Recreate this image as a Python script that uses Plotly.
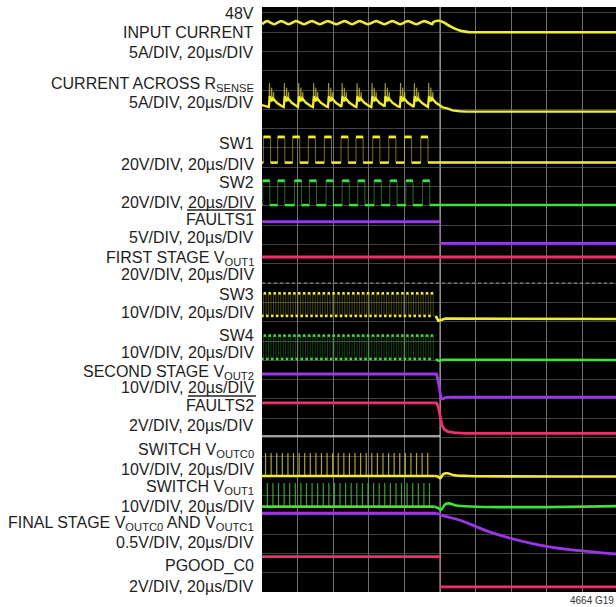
import numpy as np
import plotly.graph_objects as go

# ---------------- graticule (in scope divisions, 20µs/div horizontally) ----------------
X_MAX = 9.94
Y_MAX = 30.3
T_EVENT = 5.0

# ---------------- 48V input current ----------------
IIN_LEVEL = 29.49
IIN_RIPPLE = 0.08
IIN_PEAKS_T = [0.14, 0.54, 0.96, 1.40, 1.85, 2.32, 2.74, 3.21, 3.66, 4.10, 4.56]
IIN_FALL_T = [4.80, 4.98, 5.10, 5.30, 5.55, 5.80, 6.05, 9.94]
IIN_FALL_Y = [29.50, 29.59, 29.50, 29.28, 29.08, 29.00, 28.99, 28.99]

# ---------------- current across Rsense ----------------
RS_BASE = 25.12
RS_SPIKE_T = [0.19, 0.61, 1.01, 1.43, 1.85, 2.23, 2.65, 3.07, 3.44, 3.87, 4.26, 4.66]
RS_PERIOD = 0.41
# shape of one cycle: (fraction of period, height above base)
RS_CYCLE_F = [0.00, 0.07, 0.17, 0.28, 0.55, 0.90]
RS_CYCLE_H = [0.00, 0.55, 0.30, 0.45, 0.22, 0.04]
RS_THIN_F = [0.05, 0.20, 0.33]
RS_THIN_H = [1.24, 1.00, 0.78]
RS_FALL_T = [5.07, 5.20, 5.35, 5.55, 5.75, 9.94]
RS_FALL_Y = [25.10, 25.05, 24.95, 24.90, 24.88, 24.88]

# ---------------- SW1 / SW2 (first stage switch nodes) ----------------
SW1_HI, SW1_LO = 23.57, 22.24
SW1_CENTERS = [0.14, 0.54, 0.96, 1.40, 1.85, 2.32, 2.74, 3.21, 3.66, 4.10, 4.56]
SW2_HI, SW2_LO = 21.30, 20.04
SW2_CENTERS = [0.12, 0.54, 1.01, 1.43, 1.90, 2.35, 2.79, 3.25, 3.69, 4.14, 4.61]
SW12_WIDTH = 0.20

# ---------------- FAULTS1 and first stage Vout1 ----------------
FAULTS1_HI, FAULTS1_LO = 19.18, 18.06
VOUT1_LEVEL = 17.35

# ---------------- SW3 / SW4 (second stage switch nodes) ----------------
SW3_HI, SW3_LO = 15.47, 14.30
SW4_HI, SW4_LO = 13.28, 12.07
SW34_FIRST, SW34_LAST, SW34_PERIOD = 0.08, 4.84, 0.138
SW3_AFTER_T = [4.88, 4.95, 5.05, 5.15, 9.94]
SW3_AFTER_Y = [14.30, 14.05, 14.10, 14.16, 14.14]
SW4_AFTER_T = [4.88, 4.95, 5.10, 9.94]
SW4_AFTER_Y = [12.07, 11.98, 12.03, 12.02]

# ---------------- second stage Vout2 and FAULTS2 ----------------
VOUT2_T = [0.0, 4.90, 4.95, 5.00, 5.03, 5.08, 5.15, 5.30, 9.94]
VOUT2_Y = [11.29, 11.29, 10.90, 10.20, 10.00, 10.00, 10.07, 10.09, 10.09]
FAULTS2_T = [0.0, 4.90, 4.95, 5.00, 5.05, 5.12, 5.22, 5.40, 5.70, 9.94]
FAULTS2_Y = [9.80, 9.80, 9.60, 9.05, 8.65, 8.42, 8.31, 8.25, 8.22, 8.22]
REF_LEVEL = 8.08

# ---------------- switch Voutc0 / Vout1 ----------------
SWC0_BASE, SWC0_TOP = 6.01, 7.20
SWC1_BASE, SWC1_TOP = 4.42, 5.65
SWC_FIRST, SWC_LAST, SWC_PERIOD = 0.10, 4.80, 0.157
SWC0_AFTER_T = [4.85, 4.95, 5.00, 5.10, 5.20, 5.40, 5.80, 9.94]
SWC0_AFTER_Y = [6.01, 5.97, 5.89, 6.12, 6.15, 6.05, 6.01, 5.98]
SWC1_AFTER_T = [4.85, 4.95, 5.02, 5.15, 5.25, 5.50, 9.94]
SWC1_AFTER_Y = [4.42, 4.35, 4.25, 4.55, 4.59, 4.47, 4.45]

# ---------------- final stage Voutc0/Voutc1 and PGOOD_C0 ----------------
FINAL_LEVEL = 4.08
FINAL_T = [4.90, 5.18, 5.54, 6.47, 7.79, 8.71, 9.94]
FINAL_Y = [4.08, 3.90, 3.73, 3.06, 2.43, 2.18, 1.97]
PGOOD_HI, PGOOD_LO = 1.83, 0.27

YEL = "#f2ee2e"
GRN = "#3fe23a"
PUR = "#9d36e8"
PNK = "#ef2f70"

fig = go.Figure()


def add_line(xs, ys, color, width=2.5, shape="linear"):
    fig.add_trace(go.Scatter(x=xs, y=ys, mode="lines", hoverinfo="skip",
                             line=dict(color=color, width=width, shape=shape)))


def add_step(t, hi, lo, color):
    """Level change drawn like a scope: bright plateaus, faint fast edge."""
    add_line([t, t], [hi, lo], color.replace("1)", "0.45)"), 1.0)
    add_line([0, t], [hi, hi], color, 2.8)
    add_line([t, X_MAX], [lo, lo], color, 2.8)


def square_parts(centers, width, hi, lo, t_end):
    """Return full outline plus the separated high/low plateaus of a square wave."""
    ox, oy = [0.0], [lo]
    hx, hy, lx, ly = [], [], [], []
    prev = 0.0
    for c in centers:
        a, b = c - width / 2, c + width / 2
        ox += [a, a, b, b]
        oy += [lo, hi, hi, lo]
        hx += [a, b, None]
        hy += [hi, hi, None]
        lx += [prev, a, None]
        ly += [lo, lo, None]
        prev = b
    ox.append(t_end)
    oy.append(lo)
    lx += [prev, t_end]
    ly += [lo, lo]
    return ox, oy, hx, hy, lx, ly


# 48V input current
rx = [0.0]
ry = [IIN_LEVEL - IIN_RIPPLE]
for i, p in enumerate(IIN_PEAKS_T):
    rx.append(p)
    ry.append(IIN_LEVEL + IIN_RIPPLE)
    nxt = IIN_PEAKS_T[i + 1] if i + 1 < len(IIN_PEAKS_T) else p + 0.44
    rx.append((p + nxt) / 2)
    ry.append(IIN_LEVEL - IIN_RIPPLE)
add_line(rx + IIN_FALL_T, ry + IIN_FALL_Y, YEL, 2.6, "spline")

# current across Rsense: thin spikes then the bright envelope
tx, ty = [], []
for t0 in RS_SPIKE_T:
    for f, h in zip(RS_THIN_F, RS_THIN_H):
        t = t0 + f * RS_PERIOD
        tx += [t - 0.012, t, t + 0.012, None]
        ty += [RS_BASE + 0.3, RS_BASE + h, RS_BASE + 0.3, None]
add_line(tx, ty, "rgba(225,220,60,0.7)", 1.1)
mx, my = [0.0], [RS_BASE + 0.1]
for t0 in RS_SPIKE_T:
    for f, h in zip(RS_CYCLE_F, RS_CYCLE_H):
        mx.append(t0 + f * RS_PERIOD)
        my.append(RS_BASE + h)
add_line(mx + RS_FALL_T, my + RS_FALL_Y, YEL, 2.3)

# SW1, SW2
for centers, hi, lo, col, dim in [(SW1_CENTERS, SW1_HI, SW1_LO, YEL, "rgba(215,208,40,0.55)"),
                                  (SW2_CENTERS, SW2_HI, SW2_LO, GRN, "rgba(60,200,50,0.55)")]:
    ox, oy, hx, hy, lx, ly = square_parts(centers, SW12_WIDTH, hi, lo, X_MAX)
    add_line(ox, oy, dim, 1.0)
    add_line(hx, hy, col, 2.8)
    add_line(lx, ly, col, 2.5)

# FAULTS1 and first stage Vout1
add_step(T_EVENT, FAULTS1_HI, FAULTS1_LO, "rgba(157,54,232,1)")
add_line([0, X_MAX], [VOUT1_LEVEL, VOUT1_LEVEL], PNK, 2.8)

# SW3, SW4 (fast switching)
sw34_centers = list(np.arange(SW34_FIRST, SW34_LAST, SW34_PERIOD))
for hi, lo, col, dim, at, ay in [
        (SW3_HI, SW3_LO, YEL, "rgba(215,208,40,0.42)", SW3_AFTER_T, SW3_AFTER_Y),
        (SW4_HI, SW4_LO, GRN, "rgba(60,200,50,0.42)", SW4_AFTER_T, SW4_AFTER_Y)]:
    ox, oy, hx, hy, lx, ly = square_parts(sw34_centers, SW34_PERIOD / 2, hi, lo, SW34_LAST)
    add_line(ox, oy, dim, 0.8)
    add_line(hx, hy, col, 2.6)
    add_line(lx[:-2], ly[:-2], col, 2.6)
    add_line(at, ay, col, 2.6)

# second stage Vout2, FAULTS2, reference marker
add_line(VOUT2_T, VOUT2_Y, PUR, 2.8)
add_line(FAULTS2_T, FAULTS2_Y, PNK, 2.8)
add_line([0, T_EVENT], [REF_LEVEL, REF_LEVEL], "rgba(235,235,235,0.9)", 1.6)

# switch Voutc0 / Vout1 with their switching spikes
swc_t = list(np.arange(SWC_FIRST, SWC_LAST, SWC_PERIOD))
for base, top, col, dim, at, ay, shift in [
        (SWC0_BASE, SWC0_TOP, YEL, "rgba(215,205,45,0.8)", SWC0_AFTER_T, SWC0_AFTER_Y, 0.0),
        (SWC1_BASE, SWC1_TOP, GRN, "rgba(70,200,55,0.8)", SWC1_AFTER_T, SWC1_AFTER_Y, 0.05)]:
    sx, sy = [], []
    for t in swc_t:
        sx += [t + shift, t + shift, None]
        sy += [base, top, None]
    add_line(sx, sy, dim, 1.2)
    add_line([0, at[0]], [base, ay[0]], col, 2.6)
    add_line(at, ay, col, 2.6, "spline")

# final stage output and PGOOD_C0
add_line([0, FINAL_T[0]], [FINAL_LEVEL, FINAL_Y[0]], PUR, 2.8)
add_line(FINAL_T, FINAL_Y, PUR, 2.8, "spline")
add_step(T_EVENT, PGOOD_HI, PGOOD_LO, "rgba(239,47,112,1)")

# ---------------- channel labels ----------------
LABEL_TEXT = [
    "48V", "INPUT CURRENT", "5A/DIV, 20µs/DIV",
    "CURRENT ACROSS R<sub>SENSE</sub>", "5A/DIV, 20µs/DIV",
    "SW1", "20V/DIV, 20µs/DIV",
    "SW2", "20V/DIV, 20µs/DIV",
    "FAULTS1", "5V/DIV, 20µs/DIV",
    "FIRST STAGE V<sub>OUT1</sub>", "20V/DIV, 20µs/DIV",
    "SW3", "10V/DIV, 20µs/DIV",
    "SW4", "10V/DIV, 20µs/DIV",
    "SECOND STAGE V<sub>OUT2</sub>", "10V/DIV, 20µs/DIV",
    "FAULTS2", "2V/DIV, 20µs/DIV",
    "SWITCH V<sub>OUTC0</sub>", "10V/DIV, 20µs/DIV",
    "SWITCH V<sub>OUT1</sub>", "10V/DIV, 20µs/DIV",
    "FINAL STAGE V<sub>OUTC0</sub> AND V<sub>OUTC1</sub>", "0.5V/DIV, 20µs/DIV",
    "PGOOD_C0", "2V/DIV, 20µs/DIV",
]
LABEL_ROW = [14, 33, 52.5, 84.5, 102.5, 143.5, 164.5, 182, 202, 219, 237.5, 258.5, 274,
             294, 312.5, 335, 352.5, 372, 387.5, 405, 425, 450, 469, 487, 506, 523.5,
             542.5, 566, 586]

PLOT_TOP, PLOT_BOTTOM, PLOT_LEFT, FIG_W, FIG_H = 7, 592, 262, 616, 607
PLOT_H = PLOT_BOTTOM - PLOT_TOP
PLOT_W = FIG_W - PLOT_LEFT


def py(px):
    return (PLOT_BOTTOM - px) / PLOT_H


def pxx(px):
    return (px - PLOT_LEFT) / PLOT_W


font = dict(family="Liberation Sans, Arial, sans-serif", size=16, color="#1e1e1e")
ann = []
for text, row in zip(LABEL_TEXT, LABEL_ROW):
    ann.append(dict(text=text, xref="paper", yref="paper", x=0, y=py(row), xshift=-6,
                    xanchor="right", yanchor="middle", showarrow=False, font=font))
ann.append(dict(text="4664 G19", xref="paper", yref="paper", x=1, y=py(600),
                xanchor="right", yanchor="middle", showarrow=False,
                font=dict(family="Liberation Sans, Arial, sans-serif", size=10, color="#333")))

shapes = [
    # overbars for the active-low fault flags
    dict(type="line", xref="paper", yref="paper", x0=pxx(187), x1=pxx(256),
         y0=py(210), y1=py(210), line=dict(color="#222", width=1.3)),
    dict(type="line", xref="paper", yref="paper", x0=pxx(188), x1=pxx(256),
         y0=py(396), y1=py(396), line=dict(color="#222", width=1.3)),
    # brighter centre graticule lines
    dict(type="line", xref="x", yref="paper", x0=T_EVENT, x1=T_EVENT, y0=0, y1=1,
         line=dict(color="rgba(200,200,200,0.85)", width=1.2), layer="below"),
    dict(type="line", xref="paper", yref="y", x0=0, x1=1, y0=16, y1=16,
         line=dict(color="rgba(190,190,190,0.8)", width=1.2, dash="dot"), layer="below"),
]

fig.update_layout(
    width=FIG_W, height=FIG_H,
    margin=dict(l=PLOT_LEFT, r=0, t=PLOT_TOP, b=FIG_H - PLOT_BOTTOM, pad=0),
    paper_bgcolor="white", plot_bgcolor="black",
    showlegend=False,
    annotations=ann, shapes=shapes,
    xaxis=dict(range=[0, X_MAX], dtick=1, tick0=0, showgrid=True,
               gridcolor="rgba(150,150,150,0.75)", gridwidth=1, zeroline=False,
               showticklabels=False, ticks="", fixedrange=True),
    yaxis=dict(range=[0, Y_MAX], dtick=1, tick0=0, showgrid=True,
               gridcolor="rgba(110,110,110,0.6)", gridwidth=1, zeroline=False,
               showticklabels=False, ticks="", fixedrange=True),
)

fig.write_html("out.html", config={"displayModeBar": False})
